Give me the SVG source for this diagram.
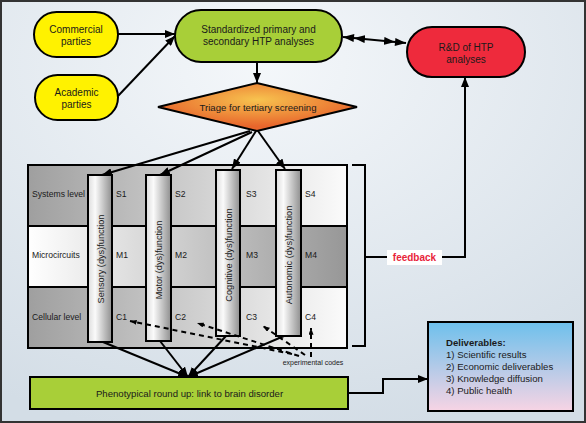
<svg xmlns="http://www.w3.org/2000/svg" width="586" height="423" viewBox="0 0 586 423">
<style>
text{font-family:"Liberation Sans",Arial,sans-serif;fill:#1a1a1a}
.lbl{font-size:10px;text-anchor:middle}
.row{font-size:8.6px}
.cell{font-size:8.6px}
.col{font-size:9.2px;text-anchor:middle}
.ln{stroke:#000;stroke-width:2;fill:none}
.dash{stroke:#000;stroke-width:2;fill:none;stroke-dasharray:5 4}
.box{stroke:#000;stroke-width:2}
.del{font-size:9.6px}
</style>
<defs>
<radialGradient id="bg" cx="0.45" cy="0.15" r="0.9">
<stop offset="0" stop-color="#f4f7fa"/>
<stop offset="1" stop-color="#d3dde6"/>
</radialGradient>
<radialGradient id="dia" cx="0.5" cy="0.35" r="0.55">
<stop offset="0" stop-color="#f7c34f"/>
<stop offset="1" stop-color="#e8662c"/>
</radialGradient>
<linearGradient id="rowA" x1="0" y1="0" x2="1" y2="0">
<stop offset="0" stop-color="#9f9f9f"/>
<stop offset="1" stop-color="#fbfbfb"/>
</linearGradient>
<linearGradient id="rowB" x1="0" y1="0" x2="1" y2="0">
<stop offset="0" stop-color="#ffffff"/>
<stop offset="1" stop-color="#979797"/>
</linearGradient>
<linearGradient id="colg" x1="0" y1="0" x2="1" y2="0">
<stop offset="0" stop-color="#dcdcdc"/>
<stop offset="0.3" stop-color="#fafafa"/>
<stop offset="1" stop-color="#8f8f8f"/>
</linearGradient>
<linearGradient id="delg" x1="0" y1="0" x2="0" y2="1">
<stop offset="0" stop-color="#6dc0ec"/>
<stop offset="1" stop-color="#f7d4e4"/>
</linearGradient>
<marker id="arr" viewBox="0 0 10 8" refX="10" refY="4" markerWidth="10" markerHeight="8" markerUnits="userSpaceOnUse" orient="auto">
<path d="M0,0 L10,4 L0,8 z" fill="#000"/>
</marker>
<marker id="sarr" viewBox="0 0 8 6" refX="8" refY="3" markerWidth="7" markerHeight="5" markerUnits="userSpaceOnUse" orient="auto">
<path d="M0,0 L8,3 L0,6 z" fill="#000"/>
</marker>
<marker id="dbl" viewBox="0 0 22 8" refX="22" refY="4" markerWidth="22" markerHeight="8" markerUnits="userSpaceOnUse" orient="auto-start-reverse">
<path d="M0,0 L11,4 L0,8 z M11,0 L22,4 L11,8 z" fill="#000"/>
</marker>
</defs>

<rect x="1" y="1" width="584" height="421" fill="url(#bg)" stroke="#333" stroke-width="2"/>

<g id="panel">
<rect x="28" y="165" width="319" height="61" fill="url(#rowA)"/>
<rect x="28" y="226" width="319" height="61" fill="url(#rowB)"/>
<rect x="28" y="287" width="319" height="61" fill="url(#rowA)"/>
<line x1="28" y1="226" x2="347" y2="226" class="ln"/>
<line x1="28" y1="287" x2="347" y2="287" class="ln"/>
<rect x="28" y="165" width="319" height="183" fill="none" class="box"/>
<text class="row" x="32" y="197">Systems level</text>
<text class="row" x="32" y="258">Microcircuits</text>
<text class="row" x="32" y="320">Cellular level</text>
<text class="cell" x="116" y="197">S1</text>
<text class="cell" x="175" y="197">S2</text>
<text class="cell" x="246" y="197">S3</text>
<text class="cell" x="305" y="197">S4</text>
<text class="cell" x="116" y="258">M1</text>
<text class="cell" x="175" y="258">M2</text>
<text class="cell" x="246" y="258">M3</text>
<text class="cell" x="305" y="258">M4</text>
<text class="cell" x="116" y="320">C1</text>
<text class="cell" x="175" y="320">C2</text>
<text class="cell" x="246" y="320">C3</text>
<text class="cell" x="305" y="320">C4</text>
</g>

<g id="col-sensory">
<rect x="88" y="175" width="24" height="167" fill="url(#colg)" class="box"/>
<text class="col" transform="translate(100,259) rotate(-90)" y="3.5">Sensory (dys)function</text>
</g>
<g id="col-motor">
<rect x="146" y="175" width="25" height="166" fill="url(#colg)" class="box"/>
<text class="col" transform="translate(158.5,260) rotate(-90)" y="3.5">Motor (dys)function</text>
</g>
<g id="col-cognitive">
<rect x="216" y="170" width="24" height="166" fill="url(#colg)" class="box"/>
<text class="col" transform="translate(228,255) rotate(-90)" y="3.5">Cognitive (dys)function</text>
</g>
<g id="col-autonomic">
<rect x="276" y="170" width="25" height="166" fill="url(#colg)" class="box"/>
<text class="col" transform="translate(288.5,255) rotate(-90)" y="3.5">Autonomic (dys)function</text>
</g>

<g id="connectors">
<line x1="118" y1="34" x2="175" y2="34" class="ln" marker-end="url(#arr)"/>
<line x1="118" y1="96" x2="175" y2="36" class="ln" marker-end="url(#arr)"/>
<line x1="343" y1="37" x2="406" y2="43" class="ln" marker-start="url(#dbl)" marker-end="url(#dbl)"/>
<line x1="257" y1="62" x2="257" y2="83" class="ln" marker-end="url(#arr)"/>
<line x1="250" y1="131" x2="102" y2="175" class="ln" marker-end="url(#arr)"/>
<line x1="252" y1="132" x2="160" y2="175" class="ln" marker-end="url(#arr)"/>
<line x1="256" y1="131" x2="232" y2="169" class="ln" marker-end="url(#arr)"/>
<line x1="258" y1="131" x2="285" y2="169" class="ln" marker-end="url(#arr)"/>
<line x1="103" y1="342" x2="188" y2="377" class="ln" marker-end="url(#arr)"/>
<line x1="160" y1="341" x2="188" y2="377" class="ln" marker-end="url(#arr)"/>
<line x1="226" y1="336" x2="188" y2="377" class="ln" marker-end="url(#arr)"/>
<line x1="284" y1="336" x2="188" y2="377" class="ln" marker-end="url(#arr)"/>
<path d="M352,165 H365 V346 H352" class="ln"/>
<path d="M365,257 H465 V77" class="ln" marker-end="url(#arr)"/>
<path d="M348,393 H383 V379 H428" class="ln" marker-end="url(#arr)"/>
<line x1="292" y1="354" x2="130" y2="321" class="dash" marker-end="url(#sarr)"/>
<line x1="299" y1="356" x2="197" y2="323" class="dash" marker-end="url(#sarr)"/>
<line x1="305" y1="355" x2="263" y2="326" class="dash" marker-end="url(#sarr)"/>
<line x1="311" y1="357" x2="311" y2="328" class="dash" marker-end="url(#sarr)"/>
<text x="313" y="365" style="font-size:7px;text-anchor:middle">experimental codes</text>
<rect x="387" y="250" width="55" height="15" fill="#fff"/>
<text x="414.5" y="261" style="font-size:10px;font-weight:bold;fill:#e8243a;text-anchor:middle">feedback</text>
</g>

<g id="commercial">
<rect x="34" y="12" width="84" height="45" rx="22.5" fill="#fff200" class="box"/>
<text class="lbl" x="76" y="33">Commercial</text>
<text class="lbl" x="76" y="45">parties</text>
</g>
<g id="academic">
<rect x="35" y="75" width="83" height="45" rx="22.5" fill="#fff200" class="box"/>
<text class="lbl" x="76.5" y="96">Academic</text>
<text class="lbl" x="76.5" y="108">parties</text>
</g>
<g id="standardized">
<rect x="175" y="10" width="167" height="52" rx="26" fill="#a8cf38" class="box"/>
<text class="lbl" x="258.5" y="33">Standardized primary and</text>
<text class="lbl" x="258.5" y="45">secondary HTP analyses</text>
</g>
<g id="rnd">
<rect x="407" y="27" width="118" height="50" rx="25" fill="#ee2a3c" class="box"/>
<text class="lbl" x="466" y="51">R&amp;D of HTP</text>
<text class="lbl" x="466" y="63">analyses</text>
</g>
<g id="triage">
<polygon points="158,107 257,83 357,107 257,131" fill="url(#dia)" class="box"/>
<text class="lbl" x="258" y="110.5" style="font-size:9.6px">Triage for tertiary screening</text>
</g>
<g id="phenotypical">
<rect x="30" y="377" width="318" height="32" fill="#a8cf38" class="box"/>
<text class="lbl" x="189.5" y="396.5" style="font-size:9.6px">Phenotypical round up: link to brain disorder</text>
</g>
<g id="deliverables">
<rect x="428" y="322" width="145" height="89" fill="url(#delg)" class="box"/>
<text class="del" x="446" y="346" style="font-weight:bold">Deliverables:</text>
<text class="del" x="446" y="357.5">1) Scientific results</text>
<text class="del" x="446" y="369.5">2) Economic deliverables</text>
<text class="del" x="446" y="381.5">3) Knowledge diffusion</text>
<text class="del" x="446" y="393.5">4) Public health</text>
</g>
</svg>
